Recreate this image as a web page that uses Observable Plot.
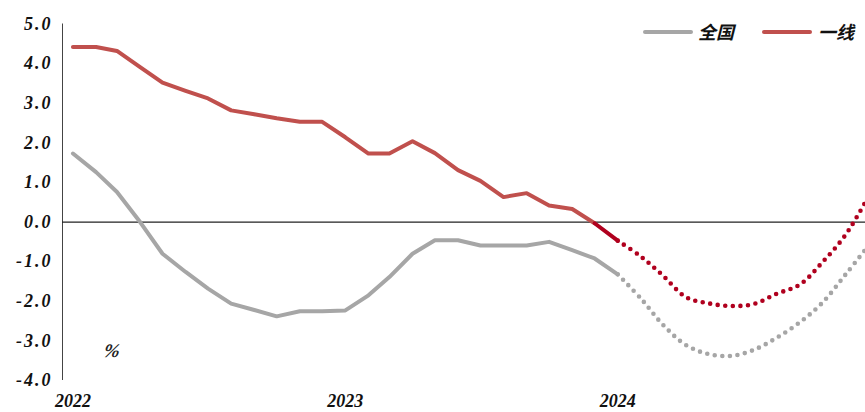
<!DOCTYPE html>
<html>
<head>
<meta charset="utf-8">
<script src="https://cdn.jsdelivr.net/npm/d3@7"></script>
<script src="https://cdn.jsdelivr.net/npm/@observablehq/plot@0.6"></script>
<style>
  html, body { margin: 0; padding: 0; background: #fff; }
  #wrap { position: relative; width: 865px; height: 412px; overflow: hidden; }
  .leg-line { position: absolute; height: 4px; border-radius: 2px; }
  .leg-text { position: absolute; font-family: "Noto Sans CJK SC", sans-serif; font-weight: bold; font-size: 18px; line-height: 18px; color: #111; transform: skewX(-14deg); }
  #unit { position: absolute; left: 104px; top: 340px; font-family: "Liberation Serif", serif; font-style: italic; font-weight: bold; font-size: 19px; color: #222; transform: skewX(-10deg); }
</style>
</head>
<body>
<div id="wrap">
  <div id="chart"></div>
  <div class="leg-line" style="left:643px; top:30px; width:50px; background:#A6A6A6;"></div>
  <div class="leg-text" style="left:700px; top:22px;">全国</div>
  <div class="leg-line" style="left:762px; top:30px; width:50px; background:#C0504D;"></div>
  <div class="leg-text" style="left:820px; top:22px;">一线</div>
  <div id="unit">%</div>
</div>
<script>
// Actual monthly values, Jan 2022 – Jan 2024
const months = [
  "2022-01","2022-02","2022-03","2022-04","2022-05","2022-06","2022-07","2022-08","2022-09","2022-10","2022-11","2022-12",
  "2023-01","2023-02","2023-03","2023-04","2023-05","2023-06","2023-07","2023-08","2023-09","2023-10","2023-11","2023-12",
  "2024-01"
];
const nationalValues = [1.73, 1.26, 0.76, 0.00, -0.80, -1.26, -1.68, -2.06, -2.22, -2.38, -2.25, -2.25,
  -2.23, -1.85, -1.39, -0.80, -0.46, -0.46, -0.59, -0.59, -0.59, -0.50, -0.71, -0.92, -1.32];
const tier1Values = [4.42, 4.42, 4.32, 3.91, 3.52, 3.31, 3.12, 2.82, 2.72, 2.62, 2.53, 2.53,
  2.14, 1.73, 1.73, 2.04, 1.74, 1.31, 1.04, 0.63, 0.73, 0.42, 0.33, -0.03, -0.47];

// Forecast monthly values, Jan 2024 – Dec 2024
const forecastMonths = ["2024-01","2024-02","2024-03","2024-04","2024-05","2024-06","2024-07","2024-08","2024-09","2024-10","2024-11","2024-12"];
const nationalForecast = [-1.32, -1.93, -2.58, -3.10, -3.33, -3.38, -3.23, -2.92, -2.53, -2.04, -1.33, -0.62];
const tier1Forecast = [-0.47, -0.87, -1.34, -1.89, -2.05, -2.12, -2.07, -1.81, -1.58, -1.02, -0.33, 0.61];

// Axis ticks
const yTicks = [-4, -3, -2, -1, 0, 1, 2, 3, 4, 5];
const yearTicks = ["2022-01", "2023-01", "2024-01"];

const seriesLabels = ["全国", "一线"];

const parse = d3.utcParse("%Y-%m");
const actual = months.map((m, i) => ({date: parse(m), national: nationalValues[i], tier1: tier1Values[i]}));
const forecast = forecastMonths.map((m, i) => ({date: parse(m), national: nationalForecast[i], tier1: tier1Forecast[i]}));
const tier1Early = actual.slice(0, actual.length - 1);
const tier1Late = actual.slice(actual.length - 2);

const xDomain = [new Date(Date.UTC(2021, 11, 18)), new Date(Date.UTC(2024, 10, 28))];

const chart = Plot.plot({
  width: 865,
  height: 412,
  marginLeft: 62,
  marginRight: 0,
  marginTop: 23.5,
  marginBottom: 32,
  style: {fontFamily: "'Liberation Serif', serif", fontStyle: "italic", fontWeight: "bold", fontSize: "18px", color: "#111", background: "transparent"},
  x: {type: "utc", domain: xDomain, label: null},
  y: {domain: [-4, 5], label: null},
  marks: [
    Plot.axisX(yearTicks.map(parse), {tickSize: 0, tickPadding: 14, fontSize: 18, fontStyle: "italic", fontWeight: "bold", tickFormat: d3.utcFormat("%Y")}),
    Plot.axisY(yTicks, {tickSize: 0, tickPadding: 10, fontSize: 18, fontStyle: "italic", fontWeight: "bold", tickFormat: d => d < 0 ? "-" + Math.abs(d).toFixed(1) : d.toFixed(1)}),
    Plot.ruleX([xDomain[0]], {y1: -4, y2: 5, stroke: "#444", strokeWidth: 1}),
    Plot.ruleY([0], {stroke: "#222", strokeWidth: 1.2}),
    Plot.line(actual, {x: "date", y: "national", stroke: "#A6A6A6", strokeWidth: 4, strokeLinejoin: "round", strokeLinecap: "round"}),
    Plot.line(tier1Early, {x: "date", y: "tier1", stroke: "#C0504D", strokeWidth: 4, strokeLinejoin: "round", strokeLinecap: "round"}),
    Plot.line(tier1Late, {x: "date", y: "tier1", stroke: "#B0001E", strokeWidth: 4, strokeLinecap: "round"}),
    Plot.line(forecast, {x: "date", y: "national", stroke: "#A6A6A6", strokeWidth: 4.6, strokeDasharray: "0 7.6", strokeLinecap: "round", curve: "catmull-rom", clip: true}),
    Plot.line(forecast, {x: "date", y: "tier1", stroke: "#B0001E", strokeWidth: 4.6, strokeDasharray: "0 7.6", strokeLinecap: "round", curve: "catmull-rom", clip: true})
  ]
});
document.getElementById("chart").appendChild(chart);
d3.select(chart).selectAll("g[aria-label='y-axis tick label'] text").style("letter-spacing", "2px");
</script>
</body>
</html>
